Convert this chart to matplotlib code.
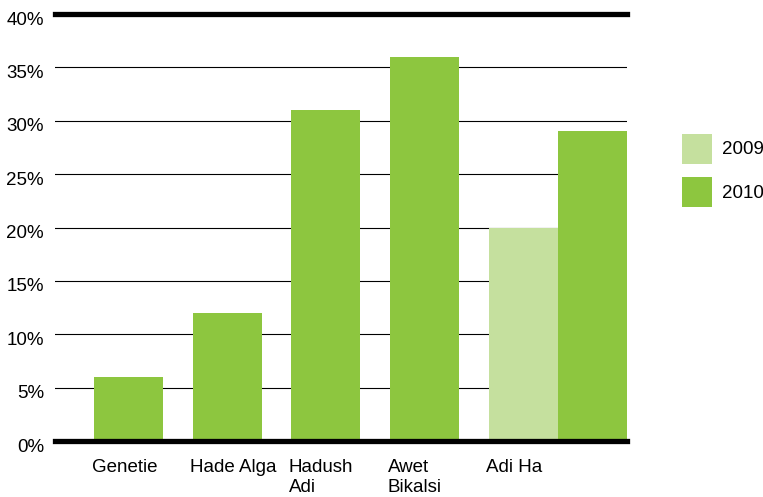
import matplotlib
matplotlib.use("Agg")
import matplotlib.pyplot as plt
import matplotlib.transforms as mtransforms
from matplotlib.patches import Rectangle

plt.rcParams['font.family'] = ['Liberation Sans', 'DejaVu Sans']

# Survey data by village (percent)
categories = ["Genetie", "Hade Alga", "Hadush\nAdi", "Awet\nBikalsi", "Adi Ha"]
values_2009 = [None, None, None, None, 20]
values_2010 = [6, 12, 31, 36, 29]
series_names = ["2009", "2010"]
y_ticks = [0, 5, 10, 15, 20, 25, 30, 35, 40]
y_labels = ["0%", "5%", "10%", "15%", "20%", "25%", "30%", "35%", "40%"]

color_2009 = "#c5e09e"
color_2010 = "#8dc63f"
series_colors = [color_2009, color_2010]

FS = 13.5
W, H = 763, 497
fig = plt.figure(figsize=(W / 100, H / 100), dpi=100)
ax = fig.add_axes([55 / W, 56 / H, (627 - 55) / W, (441 - 14) / H])

bar_w = 0.70
for i, (v09, v10) in enumerate(zip(values_2009, values_2010)):
    offset = 0.0
    if v09 is not None:
        ax.bar(i, v09, width=bar_w, align="edge", color=color_2009, zorder=2)
        offset = bar_w
    ax.bar(i + offset, v10, width=bar_w, align="edge", color=color_2010, zorder=2)

ax.set_xlim(-0.395, 5.40)
ax.set_ylim(0, 40)

# thin grid lines, heavy rules at top and bottom
for t in y_ticks[1:-1]:
    ax.axhline(t, color="black", lw=0.8, zorder=1)
ax.axhline(0, color="black", lw=3.8, zorder=3, clip_on=False)
ax.axhline(40, color="black", lw=3.8, zorder=3, clip_on=False)

for s in ax.spines.values():
    s.set_visible(False)

ax.set_yticks(y_ticks)
ax.set_yticklabels(y_labels, fontsize=FS)
ax.tick_params(axis="y", length=0, pad=8)
shift = mtransforms.ScaledTranslation(0, -4 / 100, fig.dpi_scale_trans)
for lab in ax.get_yticklabels():
    lab.set_transform(lab.get_transform() + shift)

ax.set_xticks([])
for i, name in enumerate(categories):
    ax.text(i - 0.025, -1.65, name, ha="left", va="top", fontsize=FS,
            linespacing=1.25, transform=ax.transData)

# legend: square swatches with labels to the right
sw = 30
for k, (name, col) in enumerate(zip(series_names, series_colors)):
    top = 134 + k * 43
    fig.patches.append(Rectangle((682 / W, 1 - (top + sw) / H), sw / W, sw / H,
                                 facecolor=col, edgecolor="none",
                                 transform=fig.transFigure))
    fig.text(722 / W, 1 - (top + sw / 2 + 1) / H, name, ha="left",
             va="center", fontsize=FS)

fig.savefig("out.png", dpi=100)
